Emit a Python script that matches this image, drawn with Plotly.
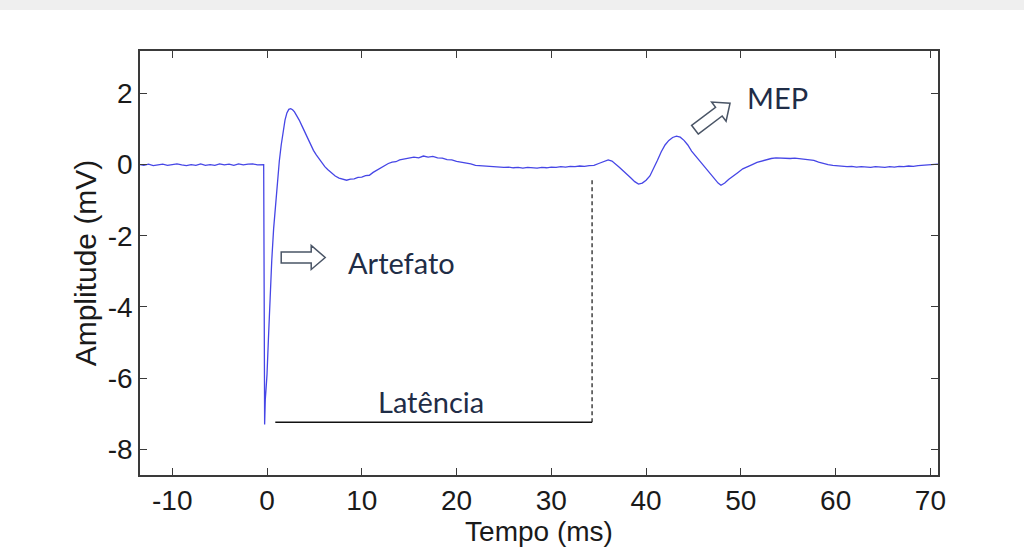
import numpy as np
import plotly.graph_objects as go

# ---------------- data ----------------
t_ms = [-13.4, -13.0, -12.5, -12.0, -11.5, -11.0, -10.5, -10.0, -9.5, -9.0, -8.5, -8.0, -7.5, -7.0,
        -6.5, -6.0, -5.5, -5.0, -4.5, -4.0, -3.5, -3.0, -2.5, -2.0, -1.5, -1.0, -0.5, -0.35,
        -0.3, -0.25, -0.18, -0.1, 0.0, 0.15, 0.3, 0.5, 0.7, 0.9, 1.1, 1.3, 1.5, 1.7, 1.9, 2.1, 2.3,
        2.5, 2.7, 2.9, 3.1, 3.4, 3.7, 4.0, 4.3, 4.6, 4.9, 5.2, 5.5, 5.8, 6.1, 6.4, 6.8, 7.2, 7.6,
        8.0, 8.4, 8.8, 9.2, 9.6, 10.0, 10.4, 10.8, 11.2, 11.6, 12.0, 12.4, 12.8, 13.2, 13.6, 14.0,
        14.5, 15.0, 15.5, 16.0, 16.5, 17.0, 17.5, 18.0, 18.5, 19.0, 19.5, 20.0, 20.5, 21.0, 21.5,
        22.0, 22.5, 23.0, 23.5, 24.0, 24.5, 25.0, 25.5, 26.0, 26.5, 27.0, 27.5, 28.0, 28.5, 29.0,
        29.5, 30.0, 30.5, 31.0, 31.5, 32.0, 32.5, 33.0, 33.5, 34.0, 34.5, 35.0, 35.5, 36.0, 36.4,
        36.8, 37.2, 37.6, 38.0, 38.4, 38.8, 39.2, 39.6, 40.0, 40.4, 40.8, 41.2, 41.6, 42.0, 42.4,
        42.8, 43.2, 43.6, 44.0, 44.4, 44.8, 45.2, 45.6, 46.0, 46.4, 46.8, 47.2, 47.6, 47.9, 48.3,
        48.7, 49.2, 49.7, 50.2, 50.7, 51.2, 51.7, 52.2, 52.7, 53.2, 53.7, 54.2, 54.7, 55.2, 55.7,
        56.2, 56.7, 57.2, 57.7, 58.2, 58.7, 59.2, 59.7, 60.2, 60.7, 61.2, 61.7, 62.2, 62.7, 63.2,
        63.7, 64.2, 64.7, 65.2, 65.7, 66.2, 66.7, 67.2, 67.7, 68.2, 68.7, 69.2, 69.7, 70.2, 70.8]

amp_mv = [0.00, -0.02, 0.01, -0.03, -0.01, 0.01, -0.02, -0.01, 0.02, -0.01, -0.03, 0.00, -0.02, 0.02,
          -0.02, 0.00, -0.02, 0.02, -0.01, 0.01, -0.02, 0.02, -0.01, 0.01, 0.02, -0.01, 0.01, 0.00,
          -3.5, -7.3, -6.6, -6.3, -5.9, -4.9, -3.9, -2.7, -1.8, -1.1, -0.45, 0.1, 0.55, 0.95, 1.25, 1.45, 1.55,
          1.57, 1.54, 1.48, 1.40, 1.25, 1.08, 0.90, 0.72, 0.55, 0.40, 0.27, 0.15, 0.04, -0.06, -0.14, -0.24, -0.32, -0.38,
          -0.42, -0.44, -0.41, -0.40, -0.36, -0.35, -0.31, -0.30, -0.22, -0.16, -0.10, -0.02, 0.03, 0.07, 0.08, 0.13,
          0.15, 0.19, 0.21, 0.19, 0.24, 0.21, 0.23, 0.19, 0.18, 0.14, 0.13, 0.09, 0.07, 0.03, 0.02,
          -0.02, -0.03, -0.05, -0.05, -0.07, -0.06, -0.08, -0.07, -0.09, -0.08, -0.10, -0.08, -0.09, -0.10, -0.08,
          -0.09, -0.07, -0.08, -0.06, -0.07, -0.05, -0.06, -0.04, -0.05, -0.03, -0.02, 0.03, 0.08, 0.13, 0.10,
          0.02, -0.08, -0.18, -0.27, -0.38, -0.48, -0.55, -0.52, -0.44, -0.32, -0.12, 0.12, 0.36, 0.55, 0.68,
          0.76, 0.80, 0.77, 0.68, 0.55, 0.38, 0.25, 0.10, -0.02, -0.14, -0.28, -0.40, -0.52, -0.58, -0.52,
          -0.42, -0.33, -0.22, -0.12, -0.05, 0.00, 0.06, 0.10, 0.14, 0.17, 0.19, 0.18, 0.19, 0.17, 0.18,
          0.16, 0.16, 0.13, 0.12, 0.07, 0.03, 0.00, -0.02, -0.04, -0.05, -0.06, -0.05, -0.07, -0.06, -0.07,
          -0.08, -0.06, -0.07, -0.08, -0.06, -0.07, -0.05, -0.06, -0.04, -0.05, -0.03, -0.02, -0.01, 0.00, 0.01]

x_ticks = [-10, 0, 10, 20, 30, 40, 50, 60, 70]
y_ticks = [2, 0, -2, -4, -6, -8]

x_title = "Tempo (ms)"
y_title = "Amplitude (mV)"
labels = {"artefato": "Artefato", "mep": "MEP", "latencia": "Latência"}

# latency marker (ms / mV)
lat_start, lat_end, lat_level, lat_top = 0.875, 34.3, -7.24, -0.37

# ---------------- figure ----------------
TICK_FONT = dict(family="Liberation Sans, Arial, sans-serif", size=28, color="#1a1a1a")
XT_FONT = dict(family="Liberation Sans, Arial, sans-serif", size=28, color="#1a1a1a")
YT_FONT = dict(family="Liberation Sans, Arial, sans-serif", size=30, color="#1a1a1a")
ANN_FONT = dict(family="Lato, Open Sans, sans-serif", size=29, color="#1f2d47")

fig = go.Figure()
fig.add_trace(go.Scatter(x=t_ms, y=amp_mv, mode="lines",
                         line=dict(color="#4646e6", width=1.3), hoverinfo="skip"))

# latency bracket
fig.add_shape(type="line", x0=lat_start, x1=lat_end, y0=lat_level, y1=lat_level,
              line=dict(color="#111111", width=1.4))
fig.add_shape(type="line", x0=lat_end, x1=lat_end, y0=lat_level, y1=lat_top,
              line=dict(color="#111111", width=1.2, dash="4px,3px"))


def arrow_path(angle_deg, length=44, shaft=5.5, head=12, head_len=14):
    pts = [(0, -shaft), (length - head_len, -shaft), (length - head_len, -head), (length, 0),
           (length - head_len, head), (length - head_len, shaft), (0, shaft)]
    a = np.deg2rad(angle_deg)
    c, s = np.cos(a), np.sin(a)
    out = []
    for u, v in pts:
        out.append((u * c - v * s, u * s + v * c))
    return "M " + " L ".join(f"{px:.2f},{py:.2f}" for px, py in out) + " Z"


arrow_style = dict(line=dict(color="#4a5566", width=1.5), fillcolor="rgba(255,255,255,0)")
fig.add_shape(type="path", xref="x", yref="y", xsizemode="pixel", ysizemode="pixel",
              xanchor=1.5, yanchor=-2.61, path=arrow_path(0), **arrow_style)
fig.add_shape(type="path", xref="x", yref="y", xsizemode="pixel", ysizemode="pixel",
              xanchor=45.15, yanchor=0.98, path=arrow_path(37), **arrow_style)

fig.add_annotation(x=14.2, y=-2.75, text=labels["artefato"], showarrow=False,
                   font=ANN_FONT, xanchor="center", yanchor="middle")
fig.add_annotation(x=53.9, y=1.88, text=labels["mep"], showarrow=False,
                   font=ANN_FONT, xanchor="center", yanchor="middle")
fig.add_annotation(x=17.27, y=-6.66, text=labels["latencia"], showarrow=False,
                   font=ANN_FONT, xanchor="center", yanchor="middle")

# page decoration: light grey band at the very top
fig.add_shape(type="rect", xref="paper", yref="paper", x0=-0.2, x1=1.2, y0=1.0967, y1=1.2,
              fillcolor="#efefef", line=dict(width=0), layer="below")

axis_common = dict(showgrid=False, zeroline=False, showline=True, linecolor="#3a3a3a",
                   linewidth=1.5, mirror="ticks", ticks="inside", ticklen=7, tickwidth=1.2,
                   tickcolor="#3a3a3a", tickfont=TICK_FONT)

fig.update_xaxes(range=[-13.4, 70.8], tickvals=x_ticks, ticktext=[str(v) for v in x_ticks],
                 title=dict(text=x_title, font=XT_FONT, standoff=0), **axis_common)
fig.update_yaxes(range=[-8.72, 3.19], tickvals=y_ticks, ticktext=[str(v) for v in y_ticks],
                 title=dict(text=y_title, font=YT_FONT, standoff=2), **axis_common)

fig.update_layout(width=1024, height=554, showlegend=False,
                  margin=dict(l=139.5, r=86, t=51, b=79, autoexpand=False),
                  paper_bgcolor="white", plot_bgcolor="white")

fig.write_html("out.html")
